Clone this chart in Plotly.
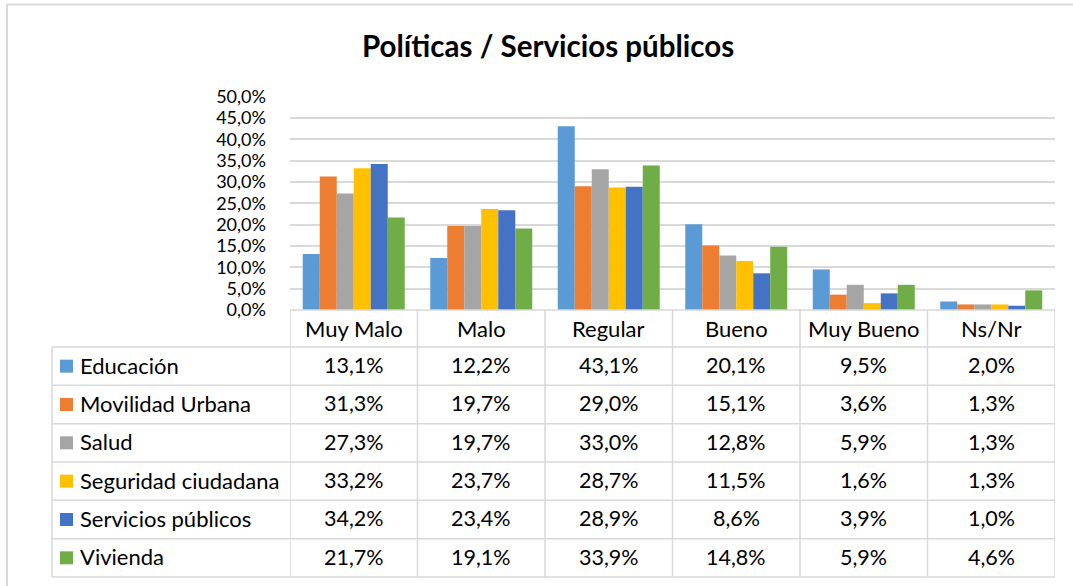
import plotly.graph_objects as go

# Survey results: rating of public policies / services
categories = ["Muy Malo", "Malo", "Regular", "Bueno", "Muy Bueno", "Ns/Nr"]

educacion = [13.1, 12.2, 43.1, 20.1, 9.5, 2.0]
movilidad_urbana = [31.3, 19.7, 29.0, 15.1, 3.6, 1.3]
salud = [27.3, 19.7, 33.0, 12.8, 5.9, 1.3]
seguridad_ciudadana = [33.2, 23.7, 28.7, 11.5, 1.6, 1.3]
servicios_publicos = [34.2, 23.4, 28.9, 8.6, 3.9, 1.0]
vivienda = [21.7, 19.1, 33.9, 14.8, 5.9, 4.6]

series_names = ["Educación", "Movilidad Urbana", "Salud",
                "Seguridad ciudadana", "Servicios públicos", "Vivienda"]
series_values = [educacion, movilidad_urbana, salud,
                 seguridad_ciudadana, servicios_publicos, vivienda]
colors = ["#5B9BD5", "#ED7D31", "#A5A5A5", "#FFC000", "#4472C4", "#70AD47"]

title_text = "Políticas / Servicios públicos"

# ---- page geometry (pixels) ----
W, H = 1073, 586
PLOT_L, PLOT_R = 290, 1055
Y0_PX, Y50_PX = 310, 96.7          # pixel rows of 0 % and 50 %
TABLE_L = 52                        # left edge of the series-name column
HEADER_TOP, HEADER_BOT = 310, 347
ROW_H = 38.33
FONT = "Lato"
TXT = "#000000"
LINE = "#D9D9D9"
NAME_SIZE = 22
VALUE_SIZE = 21.5
TICK_SIZE = 18


def py(px):
    """pixel row -> paper y"""
    return (H - px) / H


def pxx(px):
    """pixel column -> paper x"""
    return px / W


fig = go.Figure()
for name, vals, col in zip(series_names, series_values, colors):
    fig.add_trace(go.Bar(
        x=categories, y=[v / 100 for v in vals], name=name,
        marker=dict(color=col, line=dict(width=0)),
        showlegend=False,
    ))

shapes = []
annotations = []

# column cell text positions come from the category axis
n_cat = len(categories)
row_tops = [HEADER_BOT + i * ROW_H for i in range(len(series_names) + 1)]

# horizontal table lines
shapes.append(dict(type="line", xref="x", yref="paper",
                   x0=-0.5, x1=n_cat - 0.5, y0=py(HEADER_TOP), y1=py(HEADER_TOP),
                   line=dict(color=LINE, width=1.5)))
for yt in row_tops:
    shapes.append(dict(type="line", xref="paper", yref="paper",
                       x0=pxx(TABLE_L), x1=pxx(PLOT_R), y0=py(yt), y1=py(yt),
                       line=dict(color=LINE, width=1.5)))
# vertical table lines
for k in range(n_cat + 1):
    shapes.append(dict(type="line", xref="x", yref="paper",
                       x0=k - 0.5, x1=k - 0.5, y0=py(HEADER_TOP), y1=py(row_tops[-1]),
                       line=dict(color=LINE, width=1.5)))
shapes.append(dict(type="line", xref="paper", yref="paper",
                   x0=pxx(TABLE_L), x1=pxx(TABLE_L), y0=py(HEADER_BOT), y1=py(row_tops[-1]),
                   line=dict(color=LINE, width=1.5)))

# header labels
for c in categories:
    annotations.append(dict(x=c, xref="x", y=py((HEADER_TOP + HEADER_BOT) / 2), yref="paper",
                            text=c, showarrow=False, xanchor="center", yanchor="middle",
                            font=dict(family=FONT, size=NAME_SIZE, color=TXT)))

# data rows: legend key + values
for r, (name, vals, col) in enumerate(zip(series_names, series_values, colors)):
    yc = row_tops[r] + ROW_H / 2
    shapes.append(dict(type="rect", xref="paper", yref="paper",
                       x0=pxx(60), x1=pxx(73), y0=py(yc - 6.5), y1=py(yc + 6.5),
                       fillcolor=col, line=dict(width=0)))
    annotations.append(dict(x=pxx(78), xref="paper", y=py(yc - 1), yref="paper",
                            text=name, showarrow=False, xanchor="left", yanchor="middle",
                            font=dict(family=FONT, size=NAME_SIZE, color=TXT)))
    for c, v in zip(categories, vals):
        annotations.append(dict(x=c, xref="x", y=py(yc - 1), yref="paper",
                                text=f"{v:.1f}%".replace(".", ","), showarrow=False,
                                xanchor="center", yanchor="middle",
                                font=dict(family=FONT, size=VALUE_SIZE, color=TXT)))

# chart title
annotations.append(dict(x=pxx(547.5), xref="paper", y=py(45), yref="paper",
                        text=f"<b>{title_text}</b>", showarrow=False,
                        xanchor="center", yanchor="middle",
                        font=dict(family=FONT, size=29.5, color=TXT)))

# outer chart frame
shapes.append(dict(type="rect", xref="paper", yref="paper",
                   x0=pxx(7), x1=1.02, y0=-0.02, y1=py(4.5),
                   line=dict(color=LINE, width=2), fillcolor="rgba(0,0,0,0)"))

fig.update_layout(
    width=W, height=H, autosize=False,
    margin=dict(l=0, r=0, t=0, b=0, pad=0, autoexpand=False),
    paper_bgcolor="white", plot_bgcolor="white",
    separators=",.",
    barmode="group", bargap=0.2, bargroupgap=0,
    font=dict(family=FONT, size=20, color=TXT),
    xaxis=dict(domain=[pxx(PLOT_L), pxx(PLOT_R)], range=[-0.5, n_cat - 0.5],
               showticklabels=False, showgrid=False, zeroline=False, showline=False,
               ticks="", automargin=False),
    yaxis=dict(domain=[py(Y0_PX), py(Y50_PX)], range=[0, 0.5], dtick=0.05,
               tickformat=".1%", showgrid=True, gridcolor=LINE, gridwidth=1.5,
               zeroline=False, showline=False, ticks="", ticklabelstandoff=23,
               automargin=False,
               tickfont=dict(family=FONT, size=TICK_SIZE, color=TXT)),
    shapes=shapes, annotations=annotations,
)

fig.write_html("out.html")
